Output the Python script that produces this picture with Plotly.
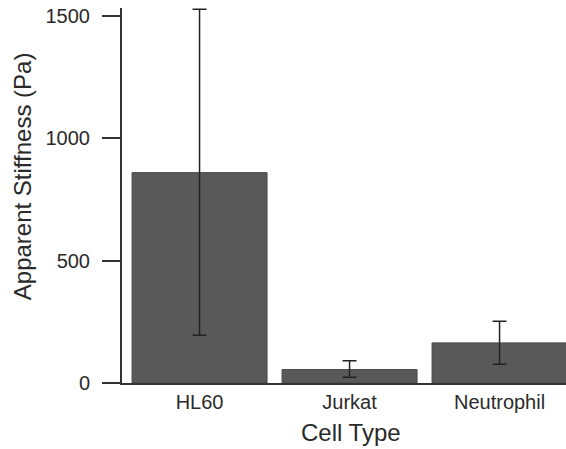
import plotly.graph_objects as go

categories = ["HL60", "Jurkat", "Neutrophil"]
stiffness = [860, 55, 164]
err_plus = [668, 36, 88]
err_minus = [665, 32, 87]
y_ticks = [0, 500, 1000, 1500]

fig = go.Figure()
fig.add_trace(go.Bar(
    x=categories, y=stiffness,
    marker=dict(color="#595959", line=dict(color="#4a4a4a", width=1)),
    error_y=dict(type="data", symmetric=False, array=err_plus, arrayminus=err_minus,
                 color="#222222", thickness=1.5, width=7),
))

fig.update_layout(
    width=566, height=449,
    margin=dict(l=122, r=0, t=8, b=66),
    paper_bgcolor="white", plot_bgcolor="white",
    bargap=0.1,
    showlegend=False,
    font=dict(family="Liberation Sans, Arial, sans-serif", color="#2a2a2a"),
    xaxis=dict(
        range=[-0.517, 2.443],
        showline=True, linecolor="#333333", linewidth=2,
        ticks="", showgrid=False, zeroline=False,
        tickfont=dict(size=20),
    ),
    yaxis=dict(
        range=[0, 1533],
        tickvals=y_ticks,
        showline=True, linecolor="#333333", linewidth=2,
        ticks="outside", ticklen=18, tickwidth=1.5, tickcolor="#333333",
        ticklabelstandoff=8,
        showgrid=False, zeroline=False,
        tickfont=dict(size=20),
    ),
    annotations=[
        dict(text="Cell Type", xref="paper", yref="paper", x=(351 - 122) / 444, y=-(432 - 382.5) / 374.5,
             showarrow=False, xanchor="center", yanchor="middle", font=dict(size=24)),
        dict(text="Apparent Stiffness (Pa)", xref="paper", yref="paper", x=-(122 - 22) / 444,
             y=(382.5 - 176) / 374.5, textangle=-90,
             showarrow=False, xanchor="center", yanchor="middle", font=dict(size=24)),
    ],
)

fig.write_html("out.html")
